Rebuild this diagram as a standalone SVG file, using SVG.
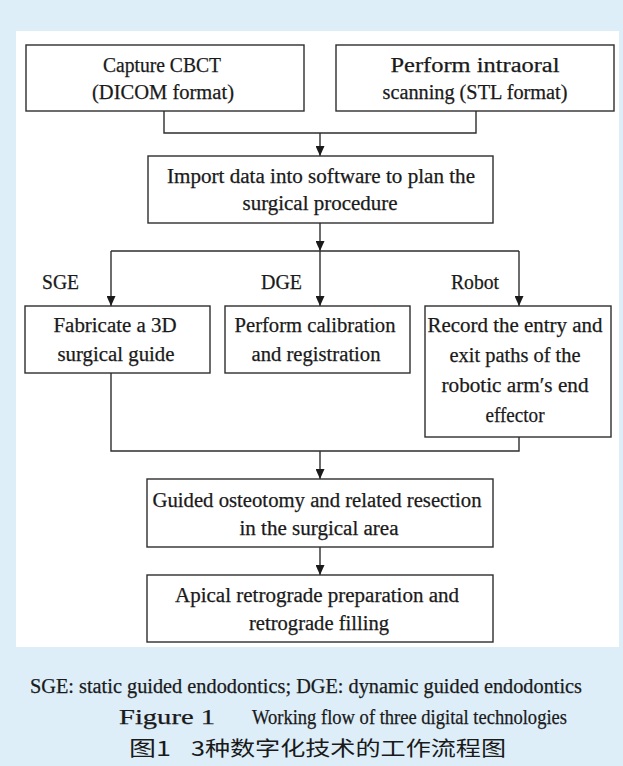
<svg xmlns="http://www.w3.org/2000/svg" width="623" height="766" viewBox="0 0 623 766">
<defs>
<style>
.bg{fill:#ddeef9}
.panel{fill:#ffffff}
.box{fill:#ffffff;stroke:#2e2e2e;stroke-width:1.4}
text{font-family:'Liberation Serif','Times New Roman',serif;fill:#1a1a1a;stroke:#1a1a1a;stroke-width:0.25}
.t{font-size:20px;text-anchor:middle}
.lbl{font-size:20px}
.cap{font-size:20px}
.fig{font-size:21px}
.cn{font-family:'Noto Sans CJK SC',sans-serif;font-size:20px;stroke-width:0}
.ln{fill:none;stroke:#2e2e2e;stroke-width:1.4}
</style>
<marker id="ah" viewBox="0 0 10 9" markerWidth="10" markerHeight="9" refX="10" refY="4.5" orient="auto" markerUnits="userSpaceOnUse">
<path d="M0,0 L10,4.5 L0,9 z" fill="#1a1a1a"/>
</marker>
</defs>
<rect class="bg" x="0" y="0" width="623" height="766"/>
<rect class="panel" x="16" y="31" width="603" height="616"/>

<g id="connectors">
<path class="ln" d="M164,111 V133 H476 V111"/>
<path class="ln" d="M320,133 V156" marker-end="url(#ah)"/>
<path class="ln" d="M320,223 V251" marker-end="url(#ah)"/>
<path class="ln" d="M111,251 H519"/>
<path class="ln" d="M111,251 V306" marker-end="url(#ah)"/>
<path class="ln" d="M320,251 V306" marker-end="url(#ah)"/>
<path class="ln" d="M519,251 V306" marker-end="url(#ah)"/>
<path class="ln" d="M111,373 V451 H519 V437"/>
<path class="ln" d="M320,451 V479" marker-end="url(#ah)"/>
<path class="ln" d="M320,547 V575" marker-end="url(#ah)"/>
</g>

<g id="n1">
<rect class="box" x="26" y="45" width="278" height="66"/>
<text class="t" x="162" y="72" textLength="118" lengthAdjust="spacingAndGlyphs">Capture CBCT</text>
<text class="t" x="163" y="99" textLength="142" lengthAdjust="spacingAndGlyphs">(DICOM format)</text>
</g>
<g id="n2">
<rect class="box" x="336" y="45" width="278" height="66"/>
<text class="t" x="475" y="72" textLength="169" lengthAdjust="spacingAndGlyphs">Perform intraoral</text>
<text class="t" x="475" y="99" textLength="185" lengthAdjust="spacingAndGlyphs">scanning (STL format)</text>
</g>
<g id="n3">
<rect class="box" x="148" y="156" width="345" height="67"/>
<text class="t" x="321" y="183" textLength="308" lengthAdjust="spacingAndGlyphs">Import data into software to plan the</text>
<text class="t" x="320" y="210" textLength="155" lengthAdjust="spacingAndGlyphs">surgical procedure</text>
</g>

<g id="labels">
<text class="lbl" x="42" y="289" textLength="37" lengthAdjust="spacingAndGlyphs">SGE</text>
<text class="lbl" x="261" y="289" textLength="41" lengthAdjust="spacingAndGlyphs">DGE</text>
<text class="lbl" x="451" y="289" textLength="48" lengthAdjust="spacingAndGlyphs">Robot</text>
</g>

<g id="n4">
<rect class="box" x="25" y="306" width="185" height="67"/>
<text class="t" x="115" y="332" textLength="123" lengthAdjust="spacingAndGlyphs">Fabricate a 3D</text>
<text class="t" x="116" y="361" textLength="117" lengthAdjust="spacingAndGlyphs">surgical guide</text>
</g>
<g id="n5">
<rect class="box" x="225" y="306" width="185" height="67"/>
<text class="t" x="315" y="332" textLength="161" lengthAdjust="spacingAndGlyphs">Perform calibration</text>
<text class="t" x="316" y="361" textLength="129" lengthAdjust="spacingAndGlyphs">and registration</text>
</g>
<g id="n6">
<rect class="box" x="425" y="306" width="186" height="131"/>
<text class="t" x="515" y="332" textLength="175" lengthAdjust="spacingAndGlyphs">Record the entry and</text>
<text class="t" x="515" y="362" textLength="131" lengthAdjust="spacingAndGlyphs">exit paths of the</text>
<text class="t" x="515" y="392" textLength="147" lengthAdjust="spacingAndGlyphs">robotic arm′s end</text>
<text class="t" x="515" y="422" textLength="59" lengthAdjust="spacingAndGlyphs">effector</text>
</g>

<g id="n7">
<rect class="box" x="147" y="479" width="346" height="68"/>
<text class="t" x="317" y="507" textLength="329" lengthAdjust="spacingAndGlyphs">Guided osteotomy and related resection</text>
<text class="t" x="319" y="535" textLength="159" lengthAdjust="spacingAndGlyphs">in the surgical area</text>
</g>
<g id="n8">
<rect class="box" x="147" y="575" width="346" height="67"/>
<text class="t" x="317" y="602" textLength="284" lengthAdjust="spacingAndGlyphs">Apical retrograde preparation and</text>
<text class="t" x="319" y="630" textLength="140" lengthAdjust="spacingAndGlyphs">retrograde filling</text>
</g>

<g id="captions">
<text class="cap" x="30" y="693" textLength="552" lengthAdjust="spacingAndGlyphs">SGE: static guided endodontics; DGE: dynamic guided endodontics</text>
<text class="fig" x="119" y="724" textLength="96" lengthAdjust="spacingAndGlyphs">Figure 1</text>
<text class="fig" x="252" y="724" textLength="315" lengthAdjust="spacingAndGlyphs">Working flow of three digital technologies</text>
<text class="cn" x="129" y="756" textLength="42" lengthAdjust="spacingAndGlyphs">图1</text>
<text class="cn" x="191" y="756" textLength="315" lengthAdjust="spacingAndGlyphs">3种数字化技术的工作流程图</text>
</g>
</svg>
